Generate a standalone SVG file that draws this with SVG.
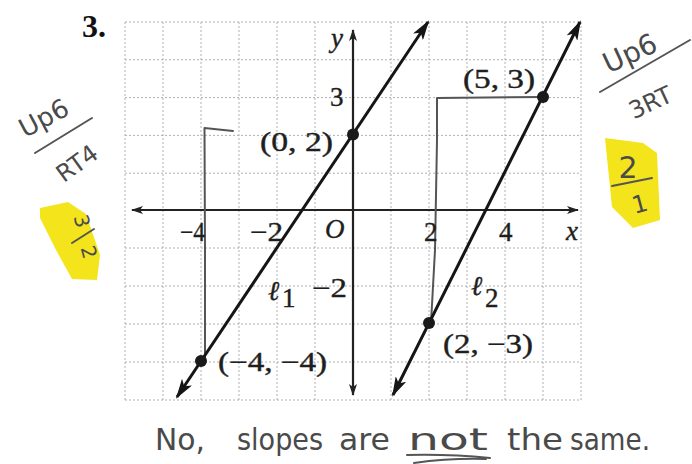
<svg xmlns="http://www.w3.org/2000/svg" width="692" height="464" viewBox="0 0 692 464">
<defs>
<style>
.grid{stroke:#b0b0b0;stroke-width:1;stroke-dasharray:2 2;fill:none}
.axis{stroke:#222;stroke-width:2.2;fill:none}
.line{stroke:#151515;stroke-width:3;fill:none}
.hand{stroke:#555;stroke-width:2;fill:none;stroke-linecap:round;stroke-linejoin:round}
.pt{fill:#1a1a1a}
.lbl{font-family:"Liberation Serif","DejaVu Serif",serif;font-size:27px;fill:#1e1e1e;stroke:#1e1e1e;stroke-width:0.4}
.it{font-style:italic}
.hw{font-family:"DejaVu Sans","Liberation Sans",sans-serif;fill:#4a4a4a}
.hl{fill:#f4e41c}
</style>
<marker id="arrL" viewBox="0 0 20 12" refX="18" refY="6" markerWidth="20" markerHeight="12" markerUnits="userSpaceOnUse" orient="auto-start-reverse">
<path d="M0,0 L20,6 L0,12 L5,6 z" fill="#151515"/>
</marker>
<marker id="arrA" viewBox="0 0 12 8" refX="11" refY="4" markerWidth="12" markerHeight="8" markerUnits="userSpaceOnUse" orient="auto-start-reverse">
<path d="M0,0 L12,4 L0,8 L3,4 z" fill="#222"/>
</marker>
</defs>
<rect width="692" height="464" fill="#ffffff"/>

<g id="grid" class="grid">
<path d="M125,22V400M163,22V400M201,22V400M239,22V400M277,22V400M315,22V400M391,22V400M429,22V400M467,22V400M505,22V400M543,22V400M581,22V400"/>
<path d="M125,22H581M125,59.8H581M125,97.6H581M125,135.4H581M125,173.2H581M125,248H581M125,286H581M125,324H581M125,362H581M125,400H581"/>
</g>

<g id="axes">
<line class="axis" x1="132" y1="210" x2="578" y2="210" marker-start="url(#arrA)" marker-end="url(#arrA)"/>
<line class="axis" x1="353" y1="395" x2="353" y2="30" marker-start="url(#arrA)" marker-end="url(#arrA)"/>
</g>

<g id="connectors">
<path class="hand" d="M205,361 L205,250 L204.5,128 L233,131"/>
<path class="hand" d="M431,323 L435,250 L437,140 L437,98 L543,97"/>
<line id="l1" class="line" x1="177" y1="397" x2="428" y2="22" marker-start="url(#arrL)" marker-end="url(#arrL)"/>
<line id="l2" class="line" x1="393" y1="395" x2="580" y2="22" marker-start="url(#arrL)" marker-end="url(#arrL)"/>
</g>

<g id="points">
<circle class="pt" cx="353" cy="134.4" r="6"/>
<circle class="pt" cx="201" cy="361" r="6"/>
<circle class="pt" cx="543" cy="97" r="6"/>
<circle class="pt" cx="429" cy="323" r="6"/>
</g>

<g id="labels">
<text x="82" y="37" font-family="Liberation Serif, serif" font-size="32" font-weight="bold" fill="#111">3.</text>
<text class="lbl it" x="331" y="47" font-size="26">y</text>
<text class="lbl" x="330" y="106">3</text>
<text class="lbl" x="260" y="151" textLength="73" lengthAdjust="spacingAndGlyphs">(0, 2)</text>
<text class="lbl" x="463" y="88" textLength="72" lengthAdjust="spacingAndGlyphs">(5, 3)</text>
<text class="lbl" x="180" y="241" textLength="25" lengthAdjust="spacingAndGlyphs">−4</text>
<text class="lbl" x="250" y="241" textLength="33" lengthAdjust="spacingAndGlyphs">−2</text>
<text class="lbl it" x="325" y="238">O</text>
<text class="lbl" x="424" y="241">2</text>
<text class="lbl" x="499" y="241">4</text>
<text class="lbl it" x="566" y="240">x</text>
<text class="lbl it" x="268" y="300">ℓ</text>
<text class="lbl" x="282" y="307" font-size="17">1</text>
<text class="lbl" x="312" y="297" textLength="35" lengthAdjust="spacingAndGlyphs">−2</text>
<text class="lbl" x="218" y="371" textLength="109" lengthAdjust="spacingAndGlyphs">(−4, −4)</text>
<text class="lbl it" x="471" y="295">ℓ</text>
<text class="lbl" x="485" y="307" font-size="17">2</text>
<text class="lbl" x="443" y="353" textLength="90" lengthAdjust="spacingAndGlyphs">(2, −3)</text>
</g>

<g id="note-left">
<text class="hw" font-size="26" transform="translate(48,126) rotate(-28)" text-anchor="middle">Up6</text>
<path class="hand" d="M35,153 L92,118"/>
<text class="hw" font-size="24" transform="translate(82,170) rotate(-36)" text-anchor="middle">RT4</text>
<path class="hl" d="M40,208 L68,202 L86,214 L100,255 L97,280 L72,279 L56,250 L40,218 Z"/>
<text class="hw" font-size="20" transform="translate(82,221) rotate(75)" text-anchor="middle" dy="7">3</text>
<path class="hand" d="M72,243 L94,229"/>
<text class="hw" font-size="20" transform="translate(89,252) rotate(75)" text-anchor="middle" dy="7">2</text>
</g>

<g id="note-right">
<text class="hw" font-size="28" transform="translate(634,62) rotate(-25)" text-anchor="middle">Up6</text>
<path class="hand" d="M600,92 L690,40"/>
<text class="hw" font-size="24" transform="translate(654,110) rotate(-25)" text-anchor="middle">3RT</text>
<path class="hl" d="M605,138 L643,143 L657,153 L660,220 L633,228 L612,207 Z"/>
<text class="hw" font-size="30" x="628" y="178" text-anchor="middle">2</text>
<path class="hand" d="M612,186 L652,178"/>
<text class="hw" font-size="24" transform="translate(642,212) rotate(-15)" text-anchor="middle">1</text>
</g>

<g id="answer">
<text class="hw" font-size="30" x="155" y="450" textLength="50" lengthAdjust="spacingAndGlyphs">No,</text>
<text class="hw" font-size="30" x="237" y="450" textLength="86" lengthAdjust="spacingAndGlyphs">slopes</text>
<text class="hw" font-size="30" x="339" y="450" textLength="51" lengthAdjust="spacingAndGlyphs">are</text>
<text class="hw" font-size="30" x="408" y="450" textLength="80" lengthAdjust="spacingAndGlyphs">not</text>
<text class="hw" font-size="30" x="507" y="450" textLength="56" lengthAdjust="spacingAndGlyphs">the</text>
<text class="hw" font-size="30" x="570" y="450" textLength="80" lengthAdjust="spacingAndGlyphs">same.</text>
<path class="hand" d="M407,455 Q450,454 490,458"/>
<path class="hand" d="M414,463 Q450,458 486,459"/>
</g>
</svg>
